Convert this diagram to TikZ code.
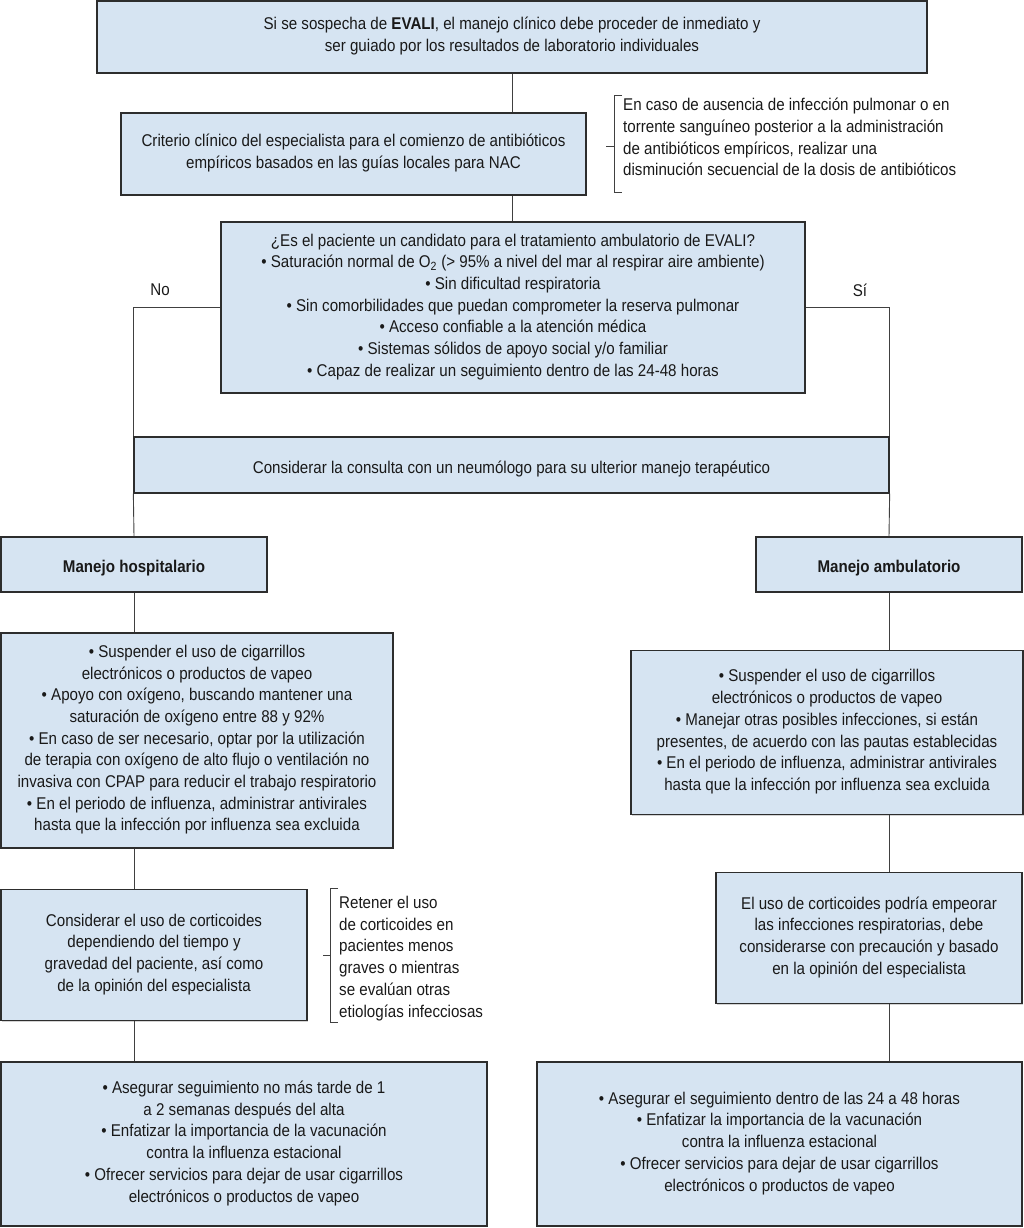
\documentclass[tikz,border=0pt]{standalone}
\usepackage{fontspec}
\setmainfont{Liberation Sans}[FakeStretch=0.89]
\usetikzlibrary{shadows}
\definecolor{boxblue}{RGB}{214,228,242}
\definecolor{edge}{RGB}{45,45,45}
\definecolor{ink}{RGB}{25,25,25}
\begin{document}
\begin{tikzpicture}[x=1pt,y=-1pt,
  txt/.style={font=\fontsize{17}{21.7}\selectfont, text=ink},
  box/.style={txt, draw=edge, line width=1.3pt, fill=boxblue, align=center, inner sep=0pt,
    drop shadow={shadow xshift=1pt, shadow yshift=-1pt, opacity=0.35},
    execute at begin node={\rule{0pt}{21pt}},
    execute at end node={\rule[-5pt]{0pt}{5pt}}},
  conn/.style={draw=black!75, line width=0.9pt},
  note/.style={txt, align=left, inner sep=0pt, anchor=north west},
  lbl/.style={txt, inner sep=0pt}]
\useasboundingbox (0,0) rectangle (1024,1228);

\node[box, minimum width=830, minimum height=72] (top) at (512,37)
  {Si se sospecha de \textbf{EVALI}, el manejo clínico debe proceder de inmediato y\\ ser guiado por los resultados de laboratorio individuales};

\node[box, minimum width=465, minimum height=82] (crit) at (353.5,154)
  {Criterio clínico del especialista para el comienzo de antibióticos\\ empíricos basados en las guías locales para NAC};

\node[note] (ann1) at (623,98)
  {En caso de ausencia de infección pulmonar o en\\ torrente sanguíneo posterior a la administración\\ de antibióticos empíricos, realizar una\\ disminución secuencial de la dosis de antibióticos};

\node[box, minimum width=584, minimum height=171] (dec) at (513,307.5)
  {¿Es el paciente un candidato para el tratamiento ambulatorio de EVALI?\\
   • Saturación normal de O\textsubscript{2} (> 95\% a nivel del mar al respirar aire ambiente)\\
   • Sin dificultad respiratoria\\
   • Sin comorbilidades que puedan comprometer la reserva pulmonar\\
   • Acceso confiable a la atención médica\\
   • Sistemas sólidos de apoyo social y/o familiar\\
   • Capaz de realizar un seguimiento dentro de las 24-48 horas};

\node[lbl] (no) at (160,290) {No};
\node[lbl] (si) at (860,290) {Sí};

\node[box, minimum width=755, minimum height=56] (cons) at (511.5,465)
  {Considerar la consulta con un neumólogo para su ulterior manejo terapéutico};

\node[box, minimum width=266, minimum height=55] (hosp) at (134,564.5) {\textbf{Manejo hospitalario}};
\node[box, minimum width=266, minimum height=55] (amb) at (889,564.5) {\textbf{Manejo ambulatorio}};

\node[box, minimum width=392, minimum height=215] (hospbul) at (197,740.5)
  {• Suspender el uso de cigarrillos\\ electrónicos o productos de vapeo\\
   • Apoyo con oxígeno, buscando mantener una\\ saturación de oxígeno entre 88 y 92\%\\
   • En caso de ser necesario, optar por la utilización\\ de terapia con oxígeno de alto flujo o ventilación no\\ invasiva con CPAP para reducir el trabajo respiratorio\\
   • En el periodo de influenza, administrar antivirales\\ hasta que la infección por influenza sea excluida};

\node[box, minimum width=306, minimum height=131] (cortH) at (154,955)
  {Considerar el uso de corticoides\\ dependiendo del tiempo y\\ gravedad del paciente, así como\\ de la opinión del especialista};

\node[note] (ann2) at (339,896)
  {Retener el uso\\ de corticoides en\\ pacientes menos\\ graves o mientras\\ se evalúan otras\\ etiologías infecciosas};

\node[box, minimum width=486, minimum height=164] (followH) at (244,1144)
  {• Asegurar seguimiento no más tarde de 1\\ a 2 semanas después del alta\\
   • Enfatizar la importancia de la vacunación\\ contra la influenza estacional\\
   • Ofrecer servicios para dejar de usar cigarrillos\\ electrónicos o productos de vapeo};

\node[box, minimum width=392, minimum height=164] (ambbul) at (827,732.5)
  {• Suspender el uso de cigarrillos\\ electrónicos o productos de vapeo\\
   • Manejar otras posibles infecciones, si están\\ presentes, de acuerdo con las pautas establecidas\\
   • En el periodo de influenza, administrar antivirales\\ hasta que la infección por influenza sea excluida};

\node[box, minimum width=306, minimum height=131] (cortA) at (869,938)
  {El uso de corticoides podría empeorar\\ las infecciones respiratorias, debe\\ considerarse con precaución y basado\\ en la opinión del especialista};

\node[box, minimum width=485, minimum height=164] (followA) at (779.5,1144)
  {• Asegurar el seguimiento dentro de las 24 a 48 horas\\
   • Enfatizar la importancia de la vacunación\\ contra la influenza estacional\\
   • Ofrecer servicios para dejar de usar cigarrillos\\ electrónicos o productos de vapeo};

% connectors
\draw[conn] (top.south) -- (top.south |- crit.north);
\draw[conn] (top.south |- crit.south) -- (top.south |- dec.north);
\draw[conn] (dec.west) -| (cons.north west);
\draw[conn] (dec.east) -| (cons.north east);
\draw[conn] (cons.south west) -- (hosp.north);
\draw[conn] (cons.south east) -- (amb.north);
\draw[conn] (hosp.south) -- (hosp.south |- hospbul.north);
\draw[conn] (hosp.south |- hospbul.south) -- (hosp.south |- cortH.north);
\draw[conn] (hosp.south |- cortH.south) -- (hosp.south |- followH.north);
\draw[conn] (amb.south) -- (amb.south |- ambbul.north);
\draw[conn] (amb.south |- ambbul.south) -- (amb.south |- cortA.north);
\draw[conn] (amb.south |- cortA.south) -- (amb.south |- followA.north);

% brackets
\draw[conn] (622,95) -- (614,95) -- (614,192) -- (622,192);
\draw[conn] (606,146) -- (614,146);
\draw[conn] (338,888) -- (330,888) -- (330,1022) -- (338,1022);
\draw[conn] (323,955) -- (330,955);
\end{tikzpicture}
\end{document}
